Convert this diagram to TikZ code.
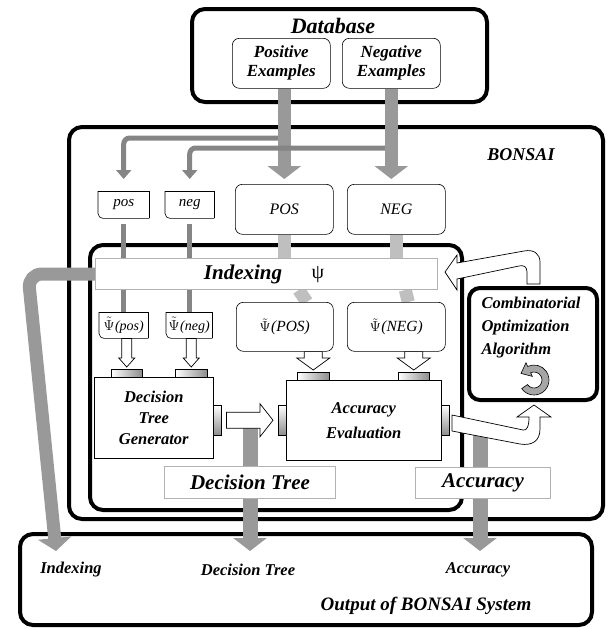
\documentclass[tikz,border=0pt]{standalone}
\usepackage{fontspec}
\setmainfont{Liberation Serif}
\usetikzlibrary{arrows.meta,calc}
\pgfdeclarelayer{frm}
\pgfdeclarelayer{stb}
\pgfsetlayers{frm,stb,main}
\newcommand\bsDown[6]{\path[#1] let \p1=(#2), \p2=(#3) in
  (\x2-#4,\y1) -- (\x2-#4,\y2+#6) -- (\x2-#5,\y2+#6) -- (\x2,\y2)
  -- (\x2+#5,\y2+#6) -- (\x2+#4,\y2+#6) -- (\x2+#4,\y1) -- cycle;}
\newcommand\bsRight[6]{\path[#1] let \p1=(#2), \p2=(#3) in
  (\x1,\y2+#4) -- (\x2-#6,\y2+#4) -- (\x2-#6,\y2+#5) -- (\x2,\y2)
  -- (\x2-#6,\y2-#5) -- (\x2-#6,\y2-#4) -- (\x1,\y2-#4) -- cycle;}
\newcommand\tpsi{$\tilde{\Psi}$\kern0.5pt}
\tikzset{
  bigframe/.style={draw=black, line width=4pt, rounded corners=13pt, anchor=north west, inner sep=0pt},
  boxed/.style={draw=black, line width=0.6pt, fill=white, anchor=north west, inner sep=0pt},
  rboxed/.style={boxed, rounded corners=7pt},
  plainbox/.style={anchor=north west, inner sep=0pt, fill=white},
  lboxed/.style={draw=black!30, line width=1pt, fill=white, anchor=north west, inner sep=0pt},
  tabh/.style={draw=black, line width=0.5pt, left color=white, right color=black!45, anchor=north west, inner sep=0pt},
  tabv/.style={draw=black, line width=0.5pt, top color=white, bottom color=black!45, anchor=north west, inner sep=0pt},
  fatarr/.style={draw=black!40, line width=13pt, -{Triangle[width=33pt,length=13pt]}},
  fatstub/.style={draw=black!25, line width=13pt},
  thinarr/.style={draw=black!48, line width=5pt, rounded corners=6pt, -{Triangle[width=15pt,length=9pt]}},
  thinstub/.style={draw=black!48, line width=5pt},
  hollow/.style={draw=black, line width=0.7pt, fill=white},
  bitext/.style 2 args={font=\fontsize{#1}{#2}\selectfont\bfseries\itshape},
  ittext/.style 2 args={font=\fontsize{#1}{#2}\selectfont\itshape},
  edge1/.style={line width=0.6pt}
}
\begin{document}
\begin{tikzpicture}[x=1pt,y=-1pt]
\useasboundingbox (0,0) rectangle (610,630);
% ---- frames
\begin{pgfonlayer}{frm}
\node[bigframe, minimum width=295pt, minimum height=93pt] (db) at (190,7) {};
\node[bigframe, minimum width=534pt, minimum height=392pt] (bonsai) at (67,125) {};
\node[bigframe, minimum width=372pt, minimum height=265pt] (inner) at (88,243) {};
\node[bigframe, minimum width=128pt, minimum height=112pt, rounded corners=11pt, fill=white] (comb) at (467,286) {};
\node[bigframe, minimum width=572pt, minimum height=91pt] (out) at (18,532) {};
\end{pgfonlayer}
% ---- titles
\node[bitext={22}{26}] (dbt) at (333,26) {Database};
\node[bitext={18}{20}] (bt) at (521,155) {BONSAI};
% ---- boxes
\node[rboxed, minimum width=98pt, minimum height=50pt, align=center, bitext={17}{19}] (pex) at (232,38) {Positive\\Examples};
\node[rboxed, minimum width=98pt, minimum height=50pt, align=center, bitext={17}{19}] (nex) at (342,38) {Negative\\Examples};
\node[plainbox, minimum width=51pt, minimum height=27pt, ittext={15}{17}] (pos) at (98,191) {pos};
\node[plainbox, minimum width=49pt, minimum height=27pt, ittext={15}{17}] (neg) at (165,191) {neg};
\draw[edge1, rounded corners=5pt] (pos.north west) -- (pos.south west) -- (pos.south east);
\draw[edge1] (pos.south east) -- (pos.north east) -- (pos.north west);
\draw[edge1, rounded corners=5pt] (neg.north west) -- (neg.south west) -- (neg.south east);
\draw[edge1] (neg.south east) -- (neg.north east) -- (neg.north west);
\node[rboxed, minimum width=98pt, minimum height=50pt, ittext={16}{18}] (POSb) at (235,184) {POS};
\node[rboxed, minimum width=98pt, minimum height=50pt, ittext={16}{18}] (NEGb) at (347,184) {NEG};
\node[lboxed, minimum width=342pt, minimum height=31pt] (idx) at (95,258) {};
\node[bitext={21}{24}] (idxt) at (243,274) {Indexing};
\node[font=\fontsize{20}{22}\selectfont] (psi) at (318,275) {ψ};
\node[plainbox, minimum width=49pt, minimum height=26pt, ittext={14}{16}] (ppos) at (99,312) {\tpsi(pos)};
\node[plainbox, minimum width=46pt, minimum height=26pt, ittext={14}{16}] (pneg) at (166,312) {\tpsi(neg)};
\draw[edge1, rounded corners=5pt] (ppos.north west) -- (ppos.south west) -- (ppos.south east);
\draw[edge1] (ppos.south east) -- (ppos.north east) -- (ppos.north west);
\draw[edge1, rounded corners=5pt] (pneg.north west) -- (pneg.south west) -- (pneg.south east);
\draw[edge1] (pneg.south east) -- (pneg.north east) -- (pneg.north west);
\node[rboxed, minimum width=97pt, minimum height=49pt, ittext={15.5}{17}] (pPOS) at (236,302) {\tpsi(POS)};
\node[rboxed, minimum width=98pt, minimum height=49pt, ittext={15.5}{17}] (pNEG) at (347,302) {\tpsi(NEG)};
\node[boxed, minimum width=119pt, minimum height=81pt, align=center, bitext={16.5}{21}] (dtg) at (94,377) {Decision\\Tree\\Generator};
\node[boxed, minimum width=155pt, minimum height=80pt, align=center, bitext={16.5}{25}] (acc) at (286,380) {Accuracy\\Evaluation};
\node[tabh, minimum width=31pt, minimum height=8pt] (t1) at (111,369) {};
\node[tabh, minimum width=32pt, minimum height=8pt] (t2) at (175,369) {};
\node[tabh, minimum width=32pt, minimum height=8pt] (t3) at (297,372) {};
\node[tabh, minimum width=31pt, minimum height=8pt] (t4) at (398,372) {};
\node[tabv, minimum width=8pt, minimum height=30pt] (t5) at (213,405) {};
\node[tabv, minimum width=8pt, minimum height=30pt] (t6) at (278,405) {};
\node[tabv, minimum width=8pt, minimum height=30pt] (t7) at (441,405) {};
\node[bitext={16.5}{23}, align=left, anchor=west] (combt) at (478,328) {Combinatorial\\Optimization\\Algorithm};
\node[lboxed, minimum width=171pt, minimum height=32pt, bitext={21}{24}] (dtl) at (164,466) {Decision Tree};
\node[lboxed, minimum width=135pt, minimum height=31pt, bitext={21}{24}] (accl) at (415,467) {Accuracy};
\node[bitext={16.5}{18}] (oi) at (71,570) {Indexing};
\node[bitext={16.5}{18}] (odt) at (248,570) {Decision Tree};
\node[bitext={16.5}{18}] (oa) at (478,570) {Accuracy};
\node[bitext={19}{21}] (ot) at (426,606) {Output of BONSAI System};
% ---- gray connectors (below boxes, above frames)
\begin{pgfonlayer}{stb}
\draw[thinstub] ($(pos.south)+(0,6)$) -- (pos.south |- idx.north);
\draw[thinstub] ($(neg.south)+(0,6)$) -- (neg.south |- idx.north);
\draw[fatstub] (POSb.south) -- (POSb.south |- idx.north);
\draw[fatstub] (NEGb.south) -- (NEGb.south |- idx.north);
\draw[thinstub] (pos.south |- idx.south) -- (pos.south |- ppos.north);
\draw[thinstub] (neg.south |- idx.south) -- (neg.south |- pneg.north);
\draw[fatstub] ($(idx.south -| pPOS.north)+(14,0)$) -- ($(pPOS.north)+(22,0)$);
\draw[fatstub] ($(idx.south -| pNEG.north)+(9,0)$) -- ($(pNEG.north)+(12,0)$);
\draw[thinarr] ($(POSb.north |- pex.south)+(0,42)$) |- ($(pos.north)+(0,-53)$) -- ($(pos.north)+(0,-12)$);
\draw[fatarr] (POSb.north |- pex.south) -- ($(POSb.north)+(0,-5)$);
\draw[thinarr] ($(nex.south)+(0,52)$) |- ($(neg.north)+(0,-43)$) -- ($(neg.north)+(0,-12)$);
\draw[fatarr] (nex.south) -- ($(nex.south |- NEGb.north)+(0,-5)$);
\draw[fatarr, line width=15pt] ($(dtl.north)+(0,-39)$) -- ($(dtl.south |- out.north)+(0,19)$);
\draw[fatarr, line width=15pt] ($(accl.north)+(-3,-37)$) -- ($(accl.south |- out.north)+(-3,19)$);
\draw[fatarr, rounded corners=14pt] (idx.west) -- (28,274) -- ($(out.north west)+(38,19)$);
\end{pgfonlayer}
% ---- hollow arrows
\bsDown{hollow}{ppos.south}{$(t1.north)+(0,-2)$}{5pt}{8pt}{9pt}
\bsDown{hollow}{pneg.south}{$(t2.north)+(0,-2)$}{5pt}{8pt}{9pt}
\bsDown{hollow}{pPOS.south}{$(t3.north)+(0,-2)$}{9pt}{16.5pt}{12pt}
\bsDown{hollow}{pNEG.south}{$(t4.north)+(0,-2)$}{9pt}{16.5pt}{12pt}
\bsRight{hollow}{$(t5.east)+(5,0)$}{$(t6.west)+(-5,0)$}{8pt}{16.5pt}{13pt}
\begin{scope}[shift={(comb.south)}]
\draw[hollow] (-81,13) -- (-10,28) .. controls (-6,29) and (-4,24) .. (-4,15) -- (-16,15) -- (1,3) -- (18,15) -- (7,15) -- (7,27) .. controls (7,39) and (-1,44) .. (-13,42) -- (-81,29) -- cycle;
\end{scope}
\begin{scope}[shift={(comb.north)}]
\draw[hollow] (-88,-14) -- (-76,-31) -- (-76,-23) -- (-9,-35) .. controls (1,-37) and (7,-32) .. (7,-24) -- (7,-2) -- (-6,-2) -- (-6,-14) .. controls (-6,-20) and (-10,-21) .. (-14,-20) -- (-76,-7) -- (-76,4) -- cycle;
\end{scope}
% ---- circular arrow
\coordinate (cc) at ($(comb.center)+(1,36)$);
\draw[line width=0.6pt, fill=black!35] ($(cc)+(145:15)$) arc[start angle=145, end angle=-115, radius=15] -- ($(cc)+(-115:19)$) -- ($(cc)+(-13,-6.6)$) -- ($(cc)+(-115:4)$) -- ($(cc)+(-115:8)$) arc[start angle=-115, end angle=145, radius=8] -- cycle;
\end{tikzpicture}
\end{document}
